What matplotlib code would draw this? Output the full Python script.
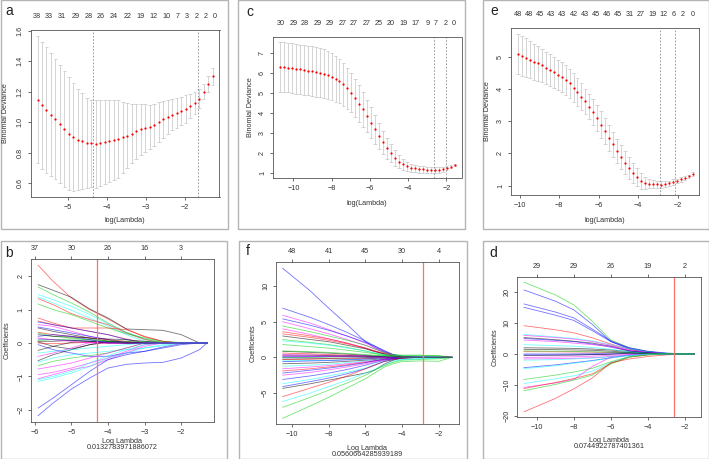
import numpy as np
import matplotlib.pyplot as plt
from matplotlib.patches import Rectangle

plt.rcParams['font.family'] = ['Liberation Sans', 'DejaVu Sans']

W, H = 709, 459

# ---------------- cross-validation curves (a, c, e) ----------------
a_lam = (-5.77, -1.285)
a_mean = [1.148, 1.11, 1.08, 1.05, 1.022, 0.99, 0.955, 0.925, 0.903, 0.886,
          0.875, 0.866, 0.861, 0.858, 0.862, 0.870, 0.878, 0.884, 0.890, 0.900,
          0.913, 0.925, 0.940, 0.953, 0.962, 0.970, 0.982, 1.000, 1.018, 1.035,
          1.050, 1.062, 1.073, 1.085, 1.105, 1.125, 1.155, 1.200, 1.250, 1.300]
a_sd = [0.415, 0.415, 0.41, 0.40, 0.393, 0.385, 0.38, 0.37, 0.352, 0.332,
        0.315, 0.294, 0.287, 0.286, 0.282, 0.274, 0.268, 0.264, 0.255, 0.235,
        0.212, 0.195, 0.178, 0.165, 0.156, 0.145, 0.136, 0.13, 0.124, 0.113,
        0.102, 0.098, 0.093, 0.09, 0.08, 0.073, 0.06, 0.05, 0.05, 0.055]
a_top_pos = [-5.79, -5.48, -5.14, -4.8, -4.46, -4.16, -3.81, -3.47, -3.13,
             -2.79, -2.47, -2.19, -1.94, -1.69, -1.46, -1.24]
a_top_lab = ['38', '33', '31', '29', '28', '26', '24', '22', '19', '12',
             '10', '7', '3', '2', '2', '0']
a_vlines = [-4.34, -1.66]

c_lam = (-10.7, -1.57)
c_mean = [6.33, 6.31, 6.29, 6.26, 6.23, 6.20, 6.17, 6.14, 6.11, 6.08,
          6.04, 5.98, 5.91, 5.83, 5.73, 5.60, 5.44, 5.24, 5.02, 4.77,
          4.48, 4.18, 3.86, 3.52, 3.18, 2.85, 2.53, 2.23, 1.97, 1.74,
          1.56, 1.42, 1.32, 1.25, 1.21, 1.18, 1.16, 1.15, 1.14, 1.14,
          1.14, 1.17, 1.23, 1.31, 1.40]
c_sd = [1.25, 1.25, 1.25, 1.25, 1.25, 1.25, 1.25, 1.25, 1.25, 1.25,
        1.25, 1.24, 1.22, 1.19, 1.15, 1.11, 1.07, 1.03, 0.99, 0.95,
        0.91, 0.87, 0.82, 0.77, 0.72, 0.66, 0.59, 0.52, 0.45, 0.38,
        0.32, 0.27, 0.23, 0.21, 0.19, 0.18, 0.17, 0.16, 0.16, 0.15,
        0.15, 0.14, 0.12, 0.09, 0.06]
c_top_pos = [-10.64, -10.0, -9.39, -8.75, -8.09, -7.44, -6.83, -6.17, -5.53,
             -4.90, -4.22, -3.59, -2.96, -2.57, -2.05, -1.60]
c_top_lab = ['30', '29', '28', '29', '29', '27', '27', '27', '25', '20',
             '19', '17', '9', '7', '2', '0']
c_vlines = [-2.66, -2.01]

e_lam = (-10.09, -1.25)
e_mean = [5.09, 5.04, 4.98, 4.92, 4.86, 4.80, 4.74, 4.67, 4.60, 4.52,
          4.45, 4.37, 4.29, 4.18, 4.05, 3.91, 3.77, 3.62, 3.46, 3.29,
          3.10, 2.90, 2.69, 2.48, 2.28, 2.08, 1.89, 1.71, 1.55, 1.40,
          1.27, 1.15, 1.08, 1.06, 1.05, 1.04, 1.03, 1.04, 1.07, 1.11,
          1.15, 1.19, 1.23, 1.29, 1.36]
e_sd = [0.63, 0.62, 0.60, 0.58, 0.56, 0.54, 0.52, 0.50, 0.49, 0.48,
        0.47, 0.46, 0.46, 0.45, 0.44, 0.43, 0.41, 0.40, 0.40, 0.40,
        0.41, 0.41, 0.41, 0.40, 0.39, 0.38, 0.37, 0.36, 0.34, 0.31,
        0.28, 0.25, 0.18, 0.15, 0.12, 0.11, 0.10, 0.09, 0.08, 0.08,
        0.07, 0.07, 0.06, 0.05, 0.05]
e_top_pos = [-10.07, -9.52, -8.96, -8.40, -7.84, -7.26, -6.70, -6.13, -5.58,
             -5.02, -4.45, -3.89, -3.30, -2.74, -2.20, -1.74, -1.26]
e_top_lab = ['48', '48', '45', '43', '43', '42', '43', '45', '46', '45',
             '31', '27', '19', '12', '6', '2', '0']
e_vlines = [-2.88, -2.14]

# ---------------- coefficient paths (b, f, d) ----------------
b_knots = [-5.91, -5.5, -5.0, -4.5, -4.0, -3.5, -3.0, -2.5, -2.0, -1.5, -1.3]
b_paths = [
    [2.33, 1.85, 1.35, 1.0, 0.72, 0.42, 0.18, 0.05, 0, 0, 0],
    [1.75, 1.58, 1.37, 1.02, 0.75, 0.42, 0.40, 0.38, 0.25, 0, 0],
    [1.68, 1.45, 1.2, 0.92, 0.6, 0.32, 0.12, 0.02, 0, 0, 0],
    [1.45, 1.3, 1.1, 0.85, 0.58, 0.32, 0.12, 0.0, 0, 0, 0],
    [1.38, 1.2, 0.98, 0.75, 0.5, 0.25, 0.05, 0, 0, 0, 0],
    [1.33, 1.15, 0.88, 0.7, 0.55, 0.3, 0.1, 0, 0, 0, 0],
    [1.17, 1.0, 0.85, 0.65, 0.45, 0.28, 0.15, 0.05, 0, 0, 0],
    [0.75, 0.6, 0.45, 0.45, 0.45, 0.4, 0.2, 0.05, 0, 0, 0],
    [0.66, 0.55, 0.45, 0.35, 0.25, 0.12, 0.0, 0, 0, 0, 0],
    [0.63, 0.55, 0.45, 0.35, 0.25, 0.1, 0, 0, 0, 0, 0],
    [0.55, 0.5, 0.35, 0.2, 0.1, 0.02, 0, 0, 0, 0, 0],
    [0.48, 0.4, 0.3, 0.2, 0.1, 0.0, 0, 0, 0, 0, 0],
    [0.32, 0.25, 0.2, 0.15, 0.1, 0.05, 0, 0, 0, 0, 0],
    [0.3, 0.2, 0.15, 0.1, 0.07, 0.05, 0.04, 0.03, 0.02, 0.01, 0],
    [0.25, 0.2, 0.18, 0.15, 0.12, 0.1, 0.05, 0, 0, 0, 0],
    [0.12, 0.1, 0.08, 0.06, 0.04, 0.02, 0, 0, 0, 0, 0],
    [0.05, 0.05, 0.08, 0.05, 0.02, 0, 0, 0, 0, 0, 0],
    [0.03, -0.1, -0.18, -0.05, 0.02, 0, 0, 0, 0, 0, 0],
    [0.0, -0.02, 0.0, 0.02, 0.0, 0, 0, 0, 0, 0, 0],
    [-0.05, -0.2, -0.3, -0.4, -0.4, -0.3, -0.25, -0.15, -0.05, 0, 0],
    [-0.22, -0.1, 0.02, 0.05, 0.0, 0, 0, 0, 0, 0, 0],
    [-0.4, -0.3, -0.15, 0.02, 0, 0, 0, 0, 0, 0, 0],
    [-0.53, -0.35, -0.2, -0.05, 0.05, 0.03, 0, 0, 0, 0, 0],
    [-0.57, -0.45, -0.35, -0.3, -0.25, -0.2, -0.15, -0.08, 0, 0, 0],
    [-0.68, -0.55, -0.45, -0.38, -0.3, -0.15, 0, 0, 0, 0, 0],
    [-0.78, -0.7, -0.6, -0.45, -0.3, -0.15, 0, 0, 0, 0, 0],
    [-0.95, -0.88, -0.75, -0.6, -0.45, -0.25, -0.05, 0, 0, 0, 0],
    [-1.07, -0.95, -0.8, -0.7, -0.5, -0.3, -0.1, 0, 0, 0, 0],
    [-1.15, -1.05, -0.9, -0.7, -0.45, -0.3, -0.15, -0.05, 0, 0, 0],
    [-1.1, -1.0, -0.85, -0.6, -0.38, -0.2, -0.05, 0, 0, 0, 0],
    [-1.95, -1.65, -1.25, -0.85, -0.5, -0.35, -0.25, -0.12, -0.02, 0, 0],
    [-2.18, -1.8, -1.38, -1.05, -0.75, -0.64, -0.6, -0.58, -0.45, -0.2, 0],
    [0.45, 0.35, 0.25, 0.15, 0.05, 0, 0, 0, 0, 0, 0],
    [0.08, 0.1, 0.12, 0.1, 0.05, 0, 0, 0, 0, 0, 0],
    [-0.3, -0.25, -0.2, -0.15, -0.1, -0.05, 0, 0, 0, 0, 0],
    [0.2, 0.25, 0.2, 0.1, 0.0, 0, 0, 0, 0, 0, 0],
    [0.15, 0.1, 0.05, 0.0, 0, 0, 0, 0, 0, 0, 0],
]
b_cols = ['r', 'k', 'g', 'c', 'c', 'r', 'g', 'r', 'r', 'b', 'm', 'b', 'r', 'g',
          'k', 'b', 'k', 'k', 'r', 'b', 'k', 'm', 'k', 'c', 'g', 'm', 'm', 'm',
          'c', 'c', 'b', 'b', 'k', 'g', 'c', 'b', 'm']
b_top_pos = [-6, -5, -4, -3, -2]
b_top_lab = ['37', '30', '26', '16', '3']
b_lmin = -4.31
b_lmin_text = '0.0132783971886072'

f_knots = [-10.51, -9, -8, -7, -6, -5.5, -5, -4.5, -4, -3, -2, -1.27]
f_paths = [
    [12.5, 9.3, 6.9, 4.6, 2.2, 1.4, 0.8, 0.3, 0.1, 0, 0, 0],
    [6.9, 5.6, 4.6, 3.5, 2.3, 1.6, 0.9, 0.4, 0.15, 0, 0, 0],
    [5.9, 4.8, 3.9, 3.0, 2.0, 1.4, 0.8, 0.35, 0.1, 0, 0, 0],
    [5.4, 4.5, 3.8, 3.0, 2.1, 1.6, 1.0, 0.4, 0.15, 0.05, 0, 0],
    [5.0, 4.0, 3.3, 2.5, 1.7, 1.2, 0.7, 0.3, 0.1, 0, 0, 0],
    [4.4, 3.6, 3.0, 2.4, 1.7, 1.2, 0.7, 0.4, 0.3, 0.3, 0.25, 0],
    [4.0, 3.2, 2.6, 2.0, 1.3, 0.9, 0.5, 0.2, 0.05, 0, 0, 0],
    [3.6, 3.0, 2.6, 2.0, 1.3, 0.9, 0.5, 0.2, 0.05, 0, 0, 0],
    [3.3, 2.8, 2.4, 1.9, 1.3, 0.9, 0.6, 0.3, 0.1, 0, 0, 0],
    [3.0, 2.5, 2.2, 1.7, 1.2, 0.8, 0.5, 0.2, 0.05, 0, 0, 0],
    [2.5, 2.1, 1.8, 1.4, 0.9, 0.6, 0.4, 0.2, 0.1, 0.05, 0, 0],
    [2.3, 2.0, 1.7, 1.3, 0.9, 0.6, 0.4, 0.3, 0.2, 0.15, 0.1, 0],
    [1.8, 1.5, 1.3, 1.0, 0.7, 0.5, 0.3, 0.1, 0, 0, 0, 0],
    [0.85, 0.7, 0.6, 0.45, 0.3, 0.2, 0.1, 0.05, 0, 0, 0, 0],
    [0.6, 0.5, 0.4, 0.3, 0.2, 0.1, 0.05, 0, 0, 0, 0, 0],
    [0.4, 0.35, 0.3, 0.25, 0.2, 0.15, 0.1, 0.05, 0, 0, 0, 0],
    [0.1, 0.1, 0.1, 0.1, 0.05, 0.02, 0, 0, 0, 0, 0, 0],
    [0.0, 0.05, 0.1, 0.15, 0.2, 0.15, 0.1, 0.05, 0, 0, 0, 0],
    [-0.05, 0, 0.05, 0.1, 0.15, 0.2, 0.25, 0.3, 0.3, 0.3, 0.2, 0],
    [-0.25, -0.2, -0.15, -0.1, -0.05, 0, 0, 0, 0, 0, 0, 0],
    [-0.5, -0.45, -0.4, -0.3, -0.2, -0.1, 0, 0, 0, 0, 0, 0],
    [-0.9, -0.8, -0.7, -0.55, -0.4, -0.3, -0.2, -0.1, 0, 0, 0, 0],
    [-1.25, -1.1, -0.95, -0.75, -0.5, -0.4, -0.3, -0.2, -0.1, 0, 0, 0],
    [-1.6, -1.35, -1.15, -0.9, -0.6, -0.45, -0.3, -0.2, -0.1, 0, 0, 0],
    [-1.9, -1.6, -1.35, -1.05, -0.7, -0.5, -0.3, -0.15, -0.05, 0, 0, 0],
    [-2.2, -1.8, -1.5, -1.15, -0.75, -0.5, -0.3, -0.15, 0, 0, 0, 0],
    [-2.5, -2.1, -1.75, -1.35, -0.9, -0.6, -0.35, -0.15, 0, 0, 0, 0],
    [-3.1, -2.6, -2.2, -1.7, -1.1, -0.75, -0.45, -0.2, -0.05, 0, 0, 0],
    [-3.7, -3.1, -2.6, -2.1, -1.5, -1.0, -0.6, -0.4, -0.3, -0.2, -0.1, 0],
    [-4.1, -3.4, -2.9, -2.3, -1.6, -1.1, -0.6, -0.3, -0.1, 0, 0, 0],
    [-4.35, -3.7, -3.2, -2.7, -2.2, -1.8, -1.0, -0.4, -0.1, 0, 0, 0],
    [-5.5, -4.3, -3.5, -2.6, -1.6, -1.1, -0.6, -0.3, -0.1, 0, 0, 0],
    [-6.2, -5.0, -4.1, -3.2, -2.2, -1.7, -1.1, -0.6, -0.3, -0.15, -0.1, 0],
    [-7.0, -5.6, -4.6, -3.6, -2.5, -1.8, -1.2, -0.7, -0.4, -0.3, -0.2, 0],
    [-8.55, -6.8, -5.6, -4.3, -3.0, -2.2, -1.4, -0.9, -0.6, -0.5, -0.55, 0],
    [0.3, 0.3, 0.25, 0.2, 0.15, 0.1, 0.05, 0, 0, 0, 0, 0],
    [-0.3, -0.25, -0.2, -0.2, -0.15, -0.1, -0.05, 0, 0, 0, 0, 0],
    [0.2, 0.15, 0.15, 0.1, 0.1, 0.05, 0, 0, 0, 0, 0, 0],
    [-0.6, -0.5, -0.45, -0.35, -0.25, -0.15, -0.1, -0.05, 0, 0, 0, 0],
    [0.9, 0.8, 0.7, 0.55, 0.4, 0.3, 0.2, 0.1, 0, 0, 0, 0],
]
f_cols = ['b', 'b', 'm', 'b', 'm', 'g', 'm', 'r', 'r', 'k', 'g', 'c', 'g', 'k',
          'r', 'm', 'b', 'b', 'g', 'k', 'c', 'k', 'c', 'm', 'r', 'b', 'm', 'b',
          'c', 'b', 'k', 'r', 'c', 'g', 'g', 'k', 'r', 'm', 'b', 'g']
f_top_pos = [-10, -8, -6, -4, -2]
f_top_lab = ['48', '41', '45', '30', '4']
f_lmin = -2.87
f_lmin_text = '0.0560664285939189'

d_knots = [-10.69, -9, -8, -7, -6, -5, -4, -3, -2, -1.5]
d_paths = [
    [23.1, 19.0, 15.8, 10.5, 4.5, 2.0, 0.8, 0.2, 0, 0],
    [20.6, 17.0, 14.2, 9.5, 4.0, 1.6, 0.5, 0.1, 0, 0],
    [16.1, 13.5, 11.6, 8.0, 4.2, 2.0, 0.9, 0.3, 0.05, 0],
    [15.0, 12.5, 10.8, 7.5, 4.0, 1.8, 0.7, 0.2, 0, 0],
    [9.1, 7.8, 6.8, 5.2, 3.2, 1.5, 0.5, 0.1, 0, 0],
    [6.3, 5.5, 5.0, 4.2, 3.0, 1.6, 0.6, 0.2, 0, 0],
    [6.0, 5.3, 4.8, 4.0, 2.8, 1.2, 0.4, 0.1, 0, 0],
    [5.3, 4.6, 4.1, 3.5, 2.5, 1.0, 0.3, 0.1, 0, 0],
    [5.0, 4.4, 4.0, 3.2, 2.2, 1.0, 0.4, 0.1, 0, 0],
    [4.5, 4.0, 3.5, 3.0, 2.5, 1.2, 0.5, 0.2, 0, 0],
    [2.0, 1.9, 1.8, 1.6, 1.3, 0.8, 0.3, 0.1, 0, 0],
    [1.5, 1.4, 1.3, 1.2, 0.9, 0.5, 0.2, 0, 0, 0],
    [0.75, 0.7, 0.65, 0.6, 0.5, 0.3, 0.1, 0, 0, 0],
    [0.0, 0.0, 0.05, 0.1, 0.3, 0.5, 0.3, 0.1, 0, 0],
    [-0.3, -0.3, -0.3, -0.2, 0.0, 0.2, 0.1, 0, 0, 0],
    [-1.1, -1.0, -0.9, -0.7, -0.4, -0.1, 0, 0, 0, 0],
    [-1.6, -1.5, -1.4, -1.2, -0.8, -0.3, -0.1, 0, 0, 0],
    [-4.4, -3.5, -2.8, -2.1, -1.2, -0.4, -0.1, 0, 0, 0],
    [-4.7, -3.8, -3.0, -2.2, -1.3, -0.5, -0.1, 0, 0, 0],
    [-8.2, -6.8, -5.8, -4.6, -2.5, -0.8, -0.2, 0, 0, 0],
    [-9.5, -8.0, -7.0, -5.5, -2.8, -0.8, -0.2, 0, 0, 0],
    [-10.75, -9.3, -8.2, -4.0, -1.0, -0.3, 0, 0, 0, 0],
    [-11.1, -9.2, -7.9, -6.4, -3.0, -1.0, -0.3, 0, 0, 0],
    [-11.8, -9.8, -8.4, -6.8, -3.2, -1.0, -0.3, 0, 0, 0],
    [-18.6, -14.3, -11.2, -7.7, -2.8, -1.6, -0.8, -0.3, 0, 0],
    [3.0, 2.7, 2.5, 2.1, 1.5, 0.7, 0.2, 0, 0, 0],
    [-0.5, -0.4, -0.3, -0.2, -0.1, 0.3, 0.2, 0.05, 0, 0],
    [1.0, 0.9, 0.8, 0.7, 0.6, 0.4, 0.2, 0.05, 0, 0],
    [-2.0, -1.8, -1.6, -1.3, -0.9, -0.4, -0.1, 0, 0, 0],
]
d_cols = ['g', 'b', 'b', 'b', 'r', 'c', 'm', 'k', 'b', 'm', 'k', 'k', 'r', 'b',
          'b', 'm', 'm', 'b', 'c', 'g', 'c', 'm', 'r', 'g', 'r', 'c', 'k', 'g',
          'c']
d_top_pos = [-10, -8, -6, -4, -2]
d_top_lab = ['29', '29', '26', '19', '2']
d_lmin = -2.58
d_lmin_text = '0.0744922787401361'

PAL = {'k': '#000000', 'r': '#ff0000', 'g': '#00cd00', 'b': '#0000ff',
       'c': '#00ffff', 'm': '#ff00ff'}
FS = 5.2

fig = plt.figure(figsize=(W / 100, H / 100), dpi=100)


def px_axes(l, t, r, b):
    return fig.add_axes([l / W, 1 - b / H, (r - l) / W, (b - t) / H])


def frame(l, t, r, b):
    fig.patches.append(Rectangle((l / W, 1 - b / H), (r - l) / W, (b - t) / H,
                                 transform=fig.transFigure, fill=False,
                                 ec='#b4b4b4', lw=1.0))


def style(ax):
    for s in ax.spines.values():
        s.set_color('#555555')
        s.set_linewidth(0.6)
    ax.tick_params(labelsize=FS, length=2.5, width=0.5, pad=2.5,
                   colors='#333333')
    ax.tick_params(axis='y', labelrotation=90)
    for lab in ax.get_yticklabels():
        lab.set_va('center')


def r_lim(lo, hi):
    d = (hi - lo) * 0.04
    return lo - d, hi + d


def cv_panel(box, lam, mean, sd, top_pos, top_lab, vlines, xticks, yticks,
             yfmt, xlab_y, ylab_x):
    ax = px_axes(*box)
    x = np.linspace(lam[0], lam[1], len(mean))
    m = np.array(mean)
    s = np.array(sd)
    up, lo = m + s, m - s
    xl = r_lim(x.min(), x.max())
    ax.set_xlim(xl)
    ax.set_ylim(r_lim(lo.min(), up.max()))
    barw = (xl[1] - xl[0]) * 0.02 / 2
    ax.vlines(x, lo, up, color='#c4c4c4', lw=0.5)
    ax.hlines(up, x - barw, x + barw, color='#c4c4c4', lw=0.5)
    ax.hlines(lo, x - barw, x + barw, color='#c4c4c4', lw=0.5)
    for v in vlines:
        ax.axvline(v, color='#8a8a8a', lw=0.6, ls=(0, (2, 2)))
    ax.scatter(x, m, s=2.6, color='red', lw=0, zorder=3)
    ax.set_xticks(xticks)
    ax.set_yticks(yticks)
    ax.set_yticklabels([yfmt.format(v) for v in yticks])
    style(ax)
    top = ax.twiny()
    top.set_xlim(xl)
    top.set_xticks(top_pos)
    top.set_xticklabels(top_lab)
    top.tick_params(length=0, labelsize=FS, pad=7, colors='#333333')
    for s_ in top.spines.values():
        s_.set_visible(False)
    cx = (box[0] + box[2]) / 2
    fig.text(cx / W, 1 - xlab_y / H, 'log(Lambda)', fontsize=FS,
             ha='center', va='center', color='#333333')
    fig.text(ylab_x / W, 1 - (box[1] + box[3]) / 2 / H, 'Binomial Deviance',
             fontsize=FS, rotation=90, ha='center', va='center',
             color='#333333')
    return ax


def coef_panel(box, knots, paths, cols, top_pos, top_lab, lmin, lmin_text,
               xticks, yticks, xlab_y, ylab_x):
    ax = px_axes(*box)
    allv = np.array(paths)
    ax.set_xlim(r_lim(min(knots), max(knots)))
    ax.set_ylim(r_lim(allv.min(), allv.max()))
    for vals, c in zip(paths, cols):
        ax.plot(knots, vals, color=PAL[c], lw=0.6, alpha=0.55)
    ax.axvline(lmin, color='#ff7070', lw=0.9)
    ax.set_xticks(xticks)
    ax.set_yticks(yticks)
    style(ax)
    top = ax.twiny()
    top.set_xlim(ax.get_xlim())
    top.set_xticks(top_pos)
    top.set_xticklabels(top_lab)
    top.tick_params(length=2.5, width=0.5, labelsize=FS, pad=2.5,
                    colors='#333333')
    for s_ in top.spines.values():
        s_.set_visible(False)
    cx = (box[0] + box[2]) / 2
    fig.text(cx / W, 1 - xlab_y / H, 'Log Lambda', fontsize=FS,
             ha='center', va='center', color='#333333')
    fig.text(cx / W, 1 - (xlab_y + 6) / H, lmin_text, fontsize=FS,
             ha='center', va='center', color='#333333')
    fig.text(ylab_x / W, 1 - (box[1] + box[3]) / 2 / H, 'Coefficients',
             fontsize=FS, rotation=90, ha='center', va='center',
             color='#333333')
    return ax


# panel frames
frame(0.5, 0.5, 228, 229)
frame(238, 0.5, 465, 229)
frame(483, 0.5, 708.5, 229)
frame(0.5, 241, 227, 458.5)
frame(239, 241, 467, 458.5)
frame(483, 241, 708.5, 458.5)

cv_panel((30.5, 30, 219.5, 197), a_lam, a_mean, a_sd, a_top_pos, a_top_lab,
         a_vlines, [-5, -4, -3, -2], [0.6, 0.8, 1.0, 1.2, 1.4, 1.6], '{:.1f}',
         221, 6)
cv_panel((273, 36.7, 461.5, 178.3), c_lam, c_mean, c_sd, c_top_pos, c_top_lab,
         c_vlines, [-10, -8, -6, -4, -2], [1, 2, 3, 4, 5, 6, 7], '{:d}',
         203, 251)
cv_panel((511, 27.7, 699.5, 195), e_lam, e_mean, e_sd, e_top_pos, e_top_lab,
         e_vlines, [-10, -8, -6, -4, -2], [1, 2, 3, 4, 5], '{:d}',
         220, 487)

coef_panel((31.4, 259.3, 213.6, 421.7), b_knots, b_paths, b_cols, b_top_pos,
           b_top_lab, b_lmin, b_lmin_text, [-6, -5, -4, -3, -2],
           [-2, -1, 0, 1, 2], 441.5, 7)
coef_panel((276, 262.3, 458.8, 424.3), f_knots, f_paths, f_cols, f_top_pos,
           f_top_lab, f_lmin, f_lmin_text, [-10, -8, -6, -4, -2],
           [-5, 0, 5, 10], 448, 253)
coef_panel((517.2, 277, 701, 417), d_knots, d_paths, d_cols, d_top_pos,
           d_top_lab, d_lmin, d_lmin_text, [-10, -8, -6, -4, -2],
           [-20, -10, 0, 10, 20], 440.5, 495)

for lab, x, y in [('a', 9, 11), ('c', 250, 12), ('e', 494, 11),
                  ('b', 9, 253), ('f', 248, 251), ('d', 493, 253)]:
    fig.text(x / W, 1 - y / H, lab, fontsize=10, ha='center', va='center',
             color='#222222')

fig.savefig('out.png', dpi=100)
